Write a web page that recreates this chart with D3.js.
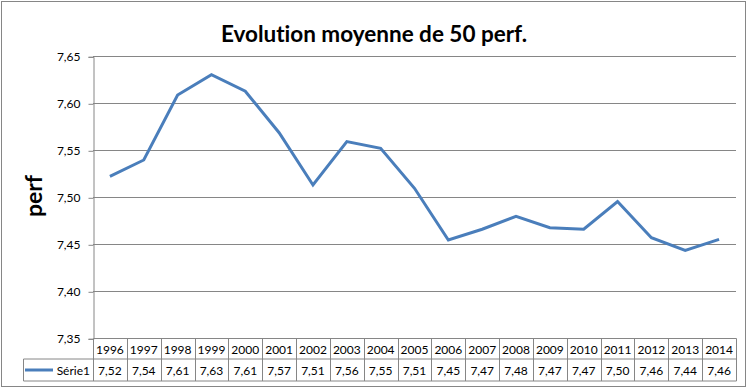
<!DOCTYPE html>
<html>
<head>
<meta charset="utf-8">
<script src="https://cdn.jsdelivr.net/npm/d3@7"></script>
<style>
  body { margin: 0; background: #fff; }
  text { font-family: Lato, "Open Sans", sans-serif; fill: #000; font-variant-ligatures: none; }
</style>
</head>
<body>
<div id="chart"></div>
<script>
// data
var years = ["1996", "1997", "1998", "1999", "2000", "2001", "2002", "2003", "2004", "2005",
  "2006", "2007", "2008", "2009", "2010", "2011", "2012", "2013", "2014"];
var perf = [7.5223, 7.5397, 7.6088, 7.6304, 7.6128, 7.5687, 7.5131, 7.5592, 7.5521, 7.5096,
  7.4546, 7.466, 7.4798, 7.4677, 7.466, 7.4955, 7.457, 7.4436, 7.4553];
var yTicks = [7.35, 7.40, 7.45, 7.50, 7.55, 7.60, 7.65];
var seriesName = "Série1";
var title = "Evolution moyenne de 50 perf.";
var yLabel = "perf";

var width = 751, height = 388;
var plot = { left: 93, right: 736, top: 56.3, bottom: 338.3 };
var rowH = [20.5, 22];
var blue = "#4a7ebb", grey = "#868686";

var fmt = function(v) { return d3.format(".2f")(v).replace(".", ","); };

var svg = d3.select("#chart").append("svg")
  .attr("width", width)
  .attr("height", height);

// outer frame
svg.append("rect")
  .attr("x", 1.5).attr("y", 1.5)
  .attr("width", 744).attr("height", 385)
  .attr("fill", "#fff")
  .attr("stroke", grey);

var xScale = d3.scaleBand().domain(years).range([plot.left, plot.right]).padding(0);
var yScale = d3.scaleLinear().domain([7.35, 7.65]).range([plot.bottom, plot.top]);

// gridlines
svg.append("g")
  .selectAll("line")
  .data(yTicks.slice(1))
  .enter()
  .append("line")
  .attr("x1", plot.left).attr("x2", plot.right)
  .attr("y1", function(d) { return Math.round(yScale(d)) + 0.5; })
  .attr("y2", function(d) { return Math.round(yScale(d)) + 0.5; })
  .attr("stroke", grey);

// y axis
var yAxis = d3.axisLeft(yScale).tickValues(yTicks).tickFormat(fmt).tickSize(5).tickPadding(8);
var yg = svg.append("g")
  .attr("transform", "translate(" + (plot.left + 0.5) + ",0.5)")
  .call(yAxis);
yg.select(".domain").attr("stroke", grey);
yg.selectAll(".tick line").attr("stroke", grey);
yg.selectAll(".tick text")
  .style("font-family", "Lato, sans-serif")
  .style("font-size", "12px")
  .attr("fill", "#000");

// title
svg.append("text")
  .text(title)
  .attr("x", 374)
  .attr("y", 42)
  .attr("text-anchor", "middle")
  .style("font-size", "22.5px")
  .style("font-weight", "bold");

// y label
svg.append("text")
  .text(yLabel)
  .attr("transform", "translate(42,196) rotate(-90)")
  .attr("text-anchor", "middle")
  .style("font-size", "23px")
  .style("font-weight", "bold");

// line
var line = d3.line()
  .x(function(d, i) { return xScale(years[i]) + xScale.bandwidth() / 2; })
  .y(function(d) { return yScale(d); });

svg.append("path")
  .datum(perf)
  .attr("d", line)
  .attr("fill", "none")
  .attr("stroke", blue)
  .attr("stroke-width", 3)
  .attr("stroke-linejoin", "miter");

// data table
var t0 = Math.round(plot.bottom) + 0.5;
var t1 = t0 + rowH[0];
var t2 = t1 + rowH[1];
var table = svg.append("g").attr("stroke", grey).attr("fill", "none");

table.append("line").attr("x1", plot.left + 0.5).attr("x2", plot.right + 0.5).attr("y1", t0).attr("y2", t0);
table.append("line").attr("x1", 23.5).attr("x2", plot.right + 0.5).attr("y1", t1).attr("y2", t1);
table.append("line").attr("x1", 23.5).attr("x2", plot.right + 0.5).attr("y1", t2).attr("y2", t2);
table.append("line").attr("x1", 23.5).attr("x2", 23.5).attr("y1", t1).attr("y2", t2);

table.selectAll(".col")
  .data(years.concat(["end"]))
  .enter()
  .append("line")
  .attr("x1", function(d) { return Math.round(d === "end" ? plot.right : xScale(d)) + 0.5; })
  .attr("x2", function(d) { return Math.round(d === "end" ? plot.right : xScale(d)) + 0.5; })
  .attr("y1", t0)
  .attr("y2", t2);

svg.append("g")
  .selectAll("text")
  .data(years)
  .enter()
  .append("text")
  .text(function(d) { return d; })
  .attr("x", function(d) { return xScale(d) + xScale.bandwidth() / 2; })
  .attr("y", t0 + 15)
  .attr("text-anchor", "middle")
  .style("font-size", "12px");

svg.append("g")
  .selectAll("text")
  .data(perf)
  .enter()
  .append("text")
  .text(function(d) { return fmt(d); })
  .attr("x", function(d, i) { return xScale(years[i]) + xScale.bandwidth() / 2; })
  .attr("y", t1 + 16)
  .attr("text-anchor", "middle")
  .style("font-size", "12px");

// legend key in table
svg.append("line")
  .attr("x1", 25).attr("x2", 53)
  .attr("y1", t1 + 11).attr("y2", t1 + 11)
  .attr("stroke", blue)
  .attr("stroke-width", 3);

svg.append("text")
  .text(seriesName)
  .attr("x", 90)
  .attr("y", t1 + 16)
  .attr("text-anchor", "end")
  .style("font-size", "12px");
</script>
</body>
</html>
